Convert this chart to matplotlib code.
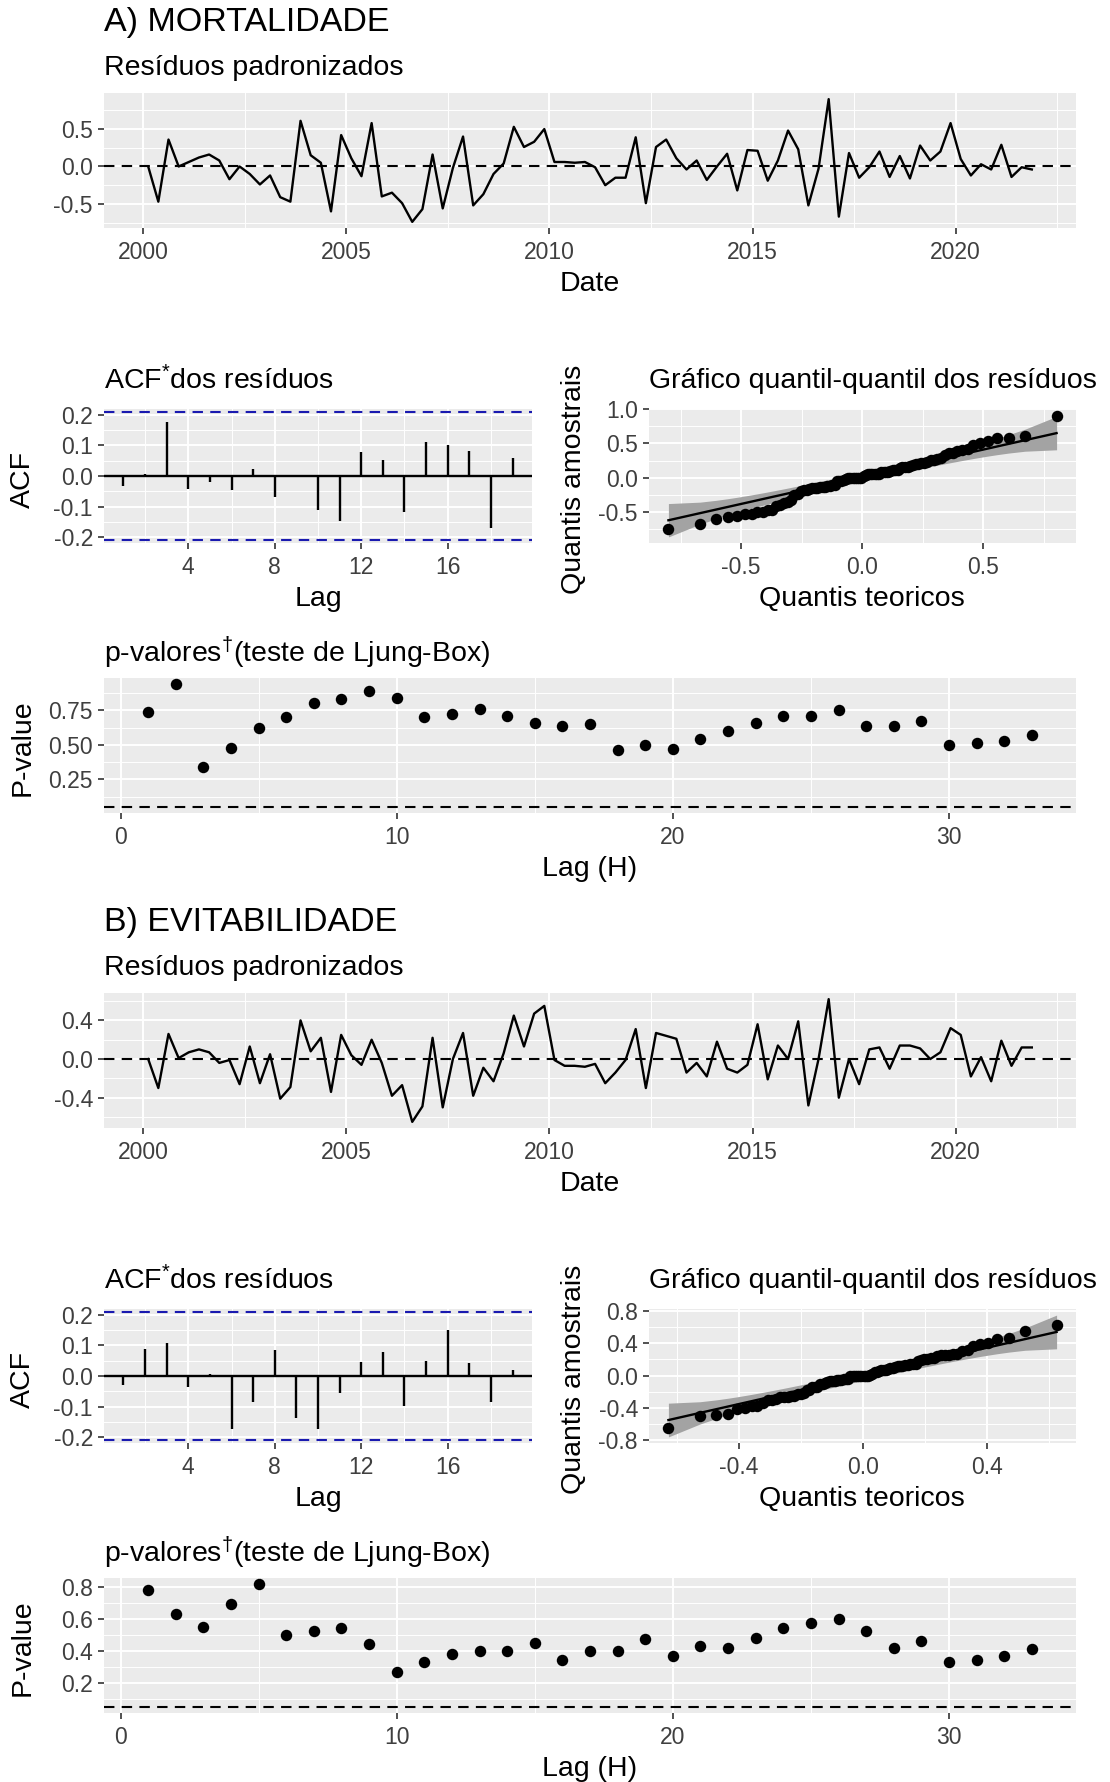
import numpy as np
import pandas as pd
import matplotlib
matplotlib.use("Agg")
import matplotlib.pyplot as plt
from statistics import NormalDist

plt.rcParams["font.family"] = ["Liberation Sans", "DejaVu Sans"]
plt.rcParams["mathtext.fontset"] = "custom"
plt.rcParams["mathtext.rm"] = "Liberation Sans"
plt.rcParams["mathtext.it"] = "Liberation Sans:italic"
plt.rcParams["mathtext.bf"] = "Liberation Sans:bold"
plt.rcParams["axes.unicode_minus"] = False

# quarterly residual series, 2000Q1 - 2021Q4
quarters = pd.period_range("2000Q1", "2021Q4", freq="Q")

resid_mort = [
    0.00, -0.47, 0.36, 0.00, 0.06, 0.12, 0.16, 0.08, -0.17, 0.00,
    -0.10, -0.24, -0.12, -0.41, -0.47, 0.61, 0.15, 0.05, -0.60, 0.42,
    0.11, -0.13, 0.58, -0.40, -0.35, -0.49, -0.74, -0.57, 0.16, -0.56,
    -0.02, 0.40, -0.52, -0.37, -0.10, 0.04, 0.53, 0.26, 0.33, 0.50,
    0.06, 0.06, 0.05, 0.06, -0.01, -0.25, -0.15, -0.15, 0.39, -0.49,
    0.26, 0.36, 0.11, -0.04, 0.08, -0.18, 0.00, 0.17, -0.32, 0.22,
    0.21, -0.19, 0.08, 0.48, 0.23, -0.52, -0.03, 0.90, -0.67, 0.18,
    -0.15, -0.01, 0.20, -0.14, 0.14, -0.16, 0.28, 0.08, 0.20, 0.58,
    0.10, -0.12, 0.03, -0.04, 0.29, -0.14, -0.01, -0.04,
]
resid_evit = [
    0.00, -0.30, 0.26, 0.01, 0.07, 0.10, 0.07, -0.04, -0.01, -0.26,
    0.13, -0.25, 0.05, -0.41, -0.29, 0.40, 0.08, 0.22, -0.34, 0.25,
    0.04, -0.06, 0.20, -0.04, -0.38, -0.27, -0.65, -0.49, 0.22, -0.50,
    0.00, 0.27, -0.38, -0.09, -0.23, 0.06, 0.45, 0.13, 0.47, 0.55,
    -0.01, -0.07, -0.07, -0.08, -0.05, -0.25, -0.14, -0.01, 0.31, -0.30,
    0.27, 0.24, 0.21, -0.14, -0.04, -0.18, 0.18, -0.10, -0.14, -0.06,
    0.36, -0.21, 0.14, 0.00, 0.39, -0.48, 0.00, 0.62, -0.40, 0.00,
    -0.26, 0.10, 0.12, -0.10, 0.14, 0.14, 0.11, 0.00, 0.07, 0.32,
    0.25, -0.18, 0.02, -0.23, 0.19, -0.07, 0.12, 0.12,
]

acf_lags = list(range(1, 20))
acf_mort = [-0.033, 0.007, 0.178, -0.041, -0.020, -0.046, 0.022, -0.070, 0.001, -0.112,
            -0.147, 0.080, 0.051, -0.119, 0.113, 0.103, 0.082, -0.170, 0.060]
acf_evit = [-0.030, 0.090, 0.109, -0.036, 0.008, -0.174, -0.086, 0.086, -0.137, -0.173,
            -0.056, 0.047, 0.080, -0.097, 0.049, 0.151, 0.044, -0.086, 0.021]
acf_ci = 0.209

lb_lags = list(range(1, 34))
pval_mort = [0.735, 0.94, 0.34, 0.48, 0.62, 0.70, 0.80, 0.83, 0.89, 0.84,
             0.70, 0.72, 0.76, 0.71, 0.66, 0.64, 0.65, 0.46, 0.50, 0.47,
             0.54, 0.60, 0.66, 0.71, 0.71, 0.75, 0.64, 0.64, 0.67, 0.50,
             0.51, 0.53, 0.57]
pval_evit = [0.78, 0.63, 0.55, 0.69, 0.815, 0.50, 0.52, 0.54, 0.44, 0.27,
             0.33, 0.38, 0.40, 0.40, 0.45, 0.34, 0.40, 0.40, 0.47, 0.37,
             0.43, 0.42, 0.48, 0.54, 0.57, 0.60, 0.52, 0.42, 0.46, 0.33,
             0.34, 0.37, 0.41]
pval_ref = 0.05

W, H = 1110, 1782
BG = "#EBEBEB"
FS_TICK = 16.5
FS_LAB = 20.5
FS_TITLE = 24.5
DASH = (0, (5, 3.5))
LW = 1.7

fig = plt.figure(figsize=(W / 100, H / 100), dpi=100)


def box(x0, x1, y0, y1):
    return [x0 / W, 1 - y1 / H, (x1 - x0) / W, (y1 - y0) / H]


def ftext(x, y, s, size=FS_LAB, **kw):
    kw.setdefault("va", "center")
    fig.text(x / W, 1 - (y + 3) / H, s, fontsize=size, **kw)


def expand(lo, hi, f=0.05):
    r = hi - lo
    return lo - f * r, hi + f * r


def gg_axes(rect, xmaj, xmin, ymaj, ymin, xfmt, yfmt, xlim, ylim):
    ax = fig.add_axes(rect)
    ax.set_facecolor(BG)
    for sp in ax.spines.values():
        sp.set_visible(False)
    ax.set_xlim(*xlim)
    ax.set_ylim(*ylim)
    ax.set_xticks(xmaj)
    ax.set_xticklabels([xfmt.format(v) for v in xmaj])
    ax.set_xticks(xmin, minor=True)
    ax.set_yticks(ymaj)
    ax.set_yticklabels([yfmt.format(v) for v in ymaj])
    ax.set_yticks(ymin, minor=True)
    ax.grid(which="major", color="white", lw=1.4)
    ax.grid(which="minor", color="white", lw=0.7)
    ax.set_axisbelow(True)
    ax.tick_params(which="major", length=4, width=1.2, color="#333333",
                   labelcolor="#3F3F3F", labelsize=FS_TICK, pad=4)
    ax.tick_params(axis="x", which="major", pad=5.5)
    ax.tick_params(which="minor", length=0)
    return ax


def qq_stats(resid):
    r = np.sort(np.asarray(resid, dtype=float))
    n = len(r)
    probs = (np.arange(1, n + 1) - 0.5) / n
    dist = NormalDist(r.mean(), r.std())
    theo = np.array([dist.inv_cdf(p) for p in probs])
    qx = np.array([dist.inv_cdf(0.25), dist.inv_cdf(0.75)])
    qy = np.quantile(r, [0.25, 0.75])
    slope = (qy[1] - qy[0]) / (qx[1] - qx[0])
    fit = qy[0] + slope * (theo - qx[0])
    dens = np.array([dist.pdf(t) for t in theo])
    se = slope / dens * np.sqrt(probs * (1 - probs) / n)
    z = NormalDist().inv_cdf(0.975)
    return theo, r, fit, fit - z * se, fit + z * se


def section(dy, title, resid, acf_vals, pvals, ts_y, qq_x, qq_y, pv_y, pv_fmt):
    t = np.asarray(quarters.year + (quarters.quarter - 1) / 4 + 0.125, dtype=float)

    # residual series
    ax = gg_axes(box(104, 1076, 93 + dy, 228 + dy),
                 [2000, 2005, 2010, 2015, 2020], [2002.5, 2007.5, 2012.5, 2017.5, 2022.5],
                 ts_y[0], ts_y[1], "{:.0f}", "{:.1f}",
                 expand(t.min(), t.max()), expand(min(resid), max(resid)))
    ax.axhline(0, color="black", lw=1.5, ls=DASH)
    ax.plot(t, resid, color="black", lw=LW)

    # ACF
    ax = gg_axes(box(104, 532, 409 + dy, 543 + dy),
                 [4, 8, 12, 16], [2, 6, 10, 14, 18],
                 [-0.2, -0.1, 0.0, 0.1, 0.2], [-0.15, -0.05, 0.05, 0.15],
                 "{:.0f}", "{:.1f}", expand(1, 19), (-acf_ci * 1.05, acf_ci * 1.05))
    ax.axhline(0, color="black", lw=LW)
    ax.vlines(acf_lags, 0, acf_vals, color="black", lw=LW)
    for c in (acf_ci, -acf_ci):
        ax.axhline(c, color="#1A1AB0", lw=1.5, ls=DASH)

    # QQ plot
    theo, samp, fit, lo, hi = qq_stats(resid)
    ax = gg_axes(box(649, 1076, 409 + dy, 543 + dy),
                 qq_x[0], qq_x[1], qq_y[0], qq_y[1], "{:.1f}", "{:.1f}",
                 expand(theo.min(), theo.max()),
                 expand(min(lo.min(), samp.min()), max(hi.max(), samp.max())))
    ax.fill_between(theo, lo, hi, color="#A3A3A3", lw=0)
    ax.scatter(theo, samp, s=68, color="black", lw=0, zorder=3)
    ax.plot(theo, fit, color="black", lw=LW, zorder=4)

    # Ljung-Box p-values
    ax = gg_axes(box(104, 1076, 678 + dy, 813 + dy),
                 [0, 10, 20, 30], [5, 15, 25], pv_y[0], pv_y[1], "{:.0f}", pv_fmt,
                 expand(min(lb_lags), max(lb_lags)),
                 expand(min(min(pvals), pval_ref), max(pvals)))
    ax.axhline(pval_ref, color="black", lw=1.5, ls=DASH)
    ax.scatter(lb_lags, pvals, s=68, color="black", lw=0, zorder=3)

    # texts
    ftext(104, 20 + dy, title, size=FS_TITLE, ha="left")
    ftext(104, 65 + dy, "Resíduos padronizados", ha="left")
    ftext(590, 281 + dy, "Date", ha="center")
    ftext(104, 378 + dy, r"ACF$^{*}$dos resíduos", ha="left")
    ftext(23, 476 + dy, "ACF", rotation=90, ha="center")
    ftext(318, 596 + dy, "Lag", ha="center")
    ftext(649, 378 + dy, "Gráfico quantil-quantil dos resíduos", ha="left")
    ftext(574, 476 + dy, "Quantis amostrais", rotation=90, ha="center")
    ftext(862, 596 + dy, "Quantis teoricos", ha="center")
    ftext(104, 650 + dy, r"p-valores$^{\dagger}$(teste de Ljung-Box)", ha="left")
    ftext(23, 745 + dy, "P-value", rotation=90, ha="center")
    ftext(590, 866 + dy, "Lag (H)", ha="center")


section(0, "A) MORTALIDADE", resid_mort, acf_mort, pval_mort,
        ([-0.5, 0.0, 0.5], [-0.75, -0.25, 0.25, 0.75]),
        ([-0.5, 0.0, 0.5], [-0.75, -0.25, 0.25, 0.75]),
        ([-0.5, 0.0, 0.5, 1.0], [-0.75, -0.25, 0.25, 0.75]),
        ([0.25, 0.50, 0.75], [0.125, 0.375, 0.625, 0.875]), "{:.2f}")

section(900, "B) EVITABILIDADE", resid_evit, acf_evit, pval_evit,
        ([-0.4, 0.0, 0.4], [-0.6, -0.2, 0.2, 0.6]),
        ([-0.4, 0.0, 0.4], [-0.6, -0.2, 0.2, 0.6]),
        ([-0.8, -0.4, 0.0, 0.4, 0.8], [-0.6, -0.2, 0.2, 0.6]),
        ([0.2, 0.4, 0.6, 0.8], [0.1, 0.3, 0.5, 0.7]), "{:.1f}")

fig.savefig("out.png", dpi=100, facecolor="white")
